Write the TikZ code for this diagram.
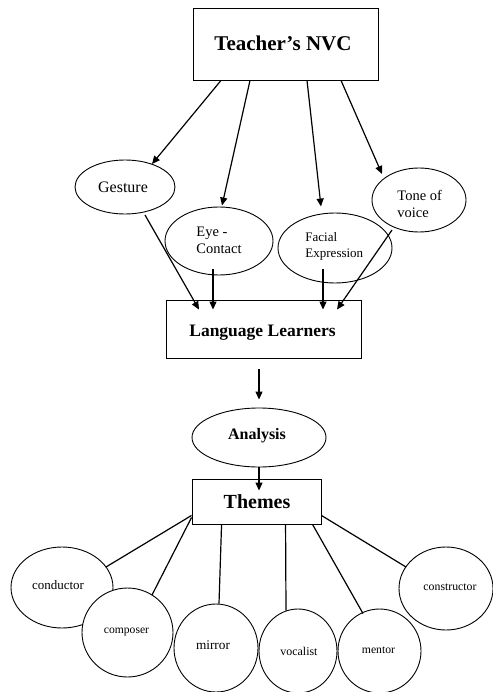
\documentclass[tikz,border=0pt]{standalone}
\usepackage{fontspec}
\setmainfont{Liberation Serif}
\usetikzlibrary{shapes.geometric,arrows.meta,calc}
\begin{document}
\begin{tikzpicture}[x=1pt,y=-1pt,
  line width=0.9pt,
  box/.style={draw, rectangle, inner sep=0pt, line width=0.9pt},
  oval/.style={draw, ellipse, inner sep=0pt, line width=0.9pt},
  wfill/.style={fill=white},
  lbl/.style={inner sep=0pt, align=left},
  arr/.style={-{Triangle[length=8pt,width=7pt]}, line width=1.2pt},
  con/.style={line width=1.2pt}]
\useasboundingbox (0,0) rectangle (492,692);

% top box
\node[box, minimum width=185pt, minimum height=72pt] (tn) at (285.5,44) {};
\node[inner sep=0pt, font=\fontsize{21}{24}\selectfont\bfseries] (tnt) at (283,43) {Teacher’s NVC};

% ellipses second row
\node[oval, minimum width=100pt, minimum height=54pt] (ges) at (125,187) {};
\node[lbl, font=\fontsize{16}{19}\selectfont] (gest) at (123,187) {Gesture};
\node[oval, minimum width=108pt, minimum height=68pt] (eye) at (219,241) {};
\node[lbl, anchor=west, font=\fontsize{14.5}{17}\selectfont] (eyet) at (196,240.5) {Eye -\\Contact};
\node[oval, minimum width=114pt, minimum height=70pt] (fac) at (335,248) {};
\node[lbl, anchor=west, font=\fontsize{13}{16}\selectfont] (fact) at (305,246) {Facial\\Expression};
\node[oval, minimum width=94pt, minimum height=64pt] (ton) at (419,200) {};
\node[lbl, anchor=west, font=\fontsize{14.5}{17}\selectfont] (tont) at (397,203.5) {Tone of\\voice};

% language learners
\node[box, minimum width=195pt, minimum height=58pt] (ll) at (263.5,329) {};
\node[inner sep=0pt, font=\fontsize{17.5}{20}\selectfont\bfseries] (llt) at (262.5,333) {Language Learners};

% analysis
\node[oval, minimum width=134pt, minimum height=59pt] (an) at (259,437.5) {};
\node[inner sep=0pt, font=\fontsize{16}{19}\selectfont\bfseries] (ant) at (257,436) {Analysis};

% themes
\node[box, minimum width=129pt, minimum height=45pt] (th) at (256.5,501.5) {};
\node[inner sep=0pt, font=\fontsize{20}{23}\selectfont\bfseries] (tht) at (257,502) {Themes};

% theme circles
\node[oval, minimum width=102pt, minimum height=81pt] (cond) at (62,587.5) {};
\node[lbl, font=\fontsize{13}{16}\selectfont] (condt) at (58,585) {conductor};
\node[oval, wfill, minimum width=91pt, minimum height=89pt] (comp) at (127.5,632.5) {};
\node[lbl, font=\fontsize{11.6}{14}\selectfont] (compt) at (126.5,632) {composer};
\node[oval, minimum width=84pt, minimum height=88pt] (mir) at (216,648) {};
\node[lbl, font=\fontsize{13.3}{16}\selectfont] (mirt) at (213,645) {mirror};
\node[oval, minimum width=78pt, minimum height=84pt] (voc) at (298,651) {};
\node[lbl, font=\fontsize{11.9}{14}\selectfont] (voct) at (299,651) {vocalist};
\node[oval, minimum width=83pt, minimum height=84pt] (men) at (379.5,651) {};
\node[lbl, font=\fontsize{11.7}{14}\selectfont] (ment) at (378.5,650) {mentor};
\node[oval, minimum width=94pt, minimum height=83pt] (cons) at (446,588.5) {};
\node[lbl, font=\fontsize{11.8}{14}\selectfont] (const) at (450,587) {constructor};

% arrows from Teacher's NVC
\draw[arr] ($(tn.south)+(-64.5,0)$) -- ($(ges.center)+(27,-23)$);
\draw[arr] ($(tn.south)+(-35.5,0)$) -- ($(eye.north)+(3,-1)$);
\draw[arr] ($(tn.south)+(21.5,0)$) -- ($(fac.north)+(-14,-6)$);
\draw[arr] ($(tn.south)+(55.5,0)$) -- ($(ton.center)+(-37,-26)$);

% arrows into Language Learners
\draw[arr] ($(ges.center)+(20,28)$) -- ($(ll.north)+(-64.5,10)$);
\draw[arr] ($(eye.center)+(-6,28)$) -- ($(ll.north)+(-50.5,10)$);
\draw[arr] ($(fac.center)+(-12,21)$) -- ($(ll.north)+(59.5,10)$);
\draw[arr] ($(ton.center)+(-27,30)$) -- ($(ll.north)+(73.5,10)$);

% down the middle
\draw[arr] ($(ll.south)+(-4.5,11)$) -- ($(an.north)+(0,-8)$);
\draw[arr] (an.south) -- ($(th.north)+(2.5,12)$);

% themes connectors
\draw[con] ($(th.south west)+(0,-9)$) -- ($(cond.center)+(44,-20.5)$);
\draw[con] ($(th.south west)+(0,-7)$) -- ($(comp.center)+(24.5,-37.5)$);
\draw[con] ($(th.south west)+(30,0)$) -- ($(mir.north)+(3,0)$);
\draw[con] ($(th.south west)+(94,0)$) -- ($(voc.north)+(-12,2)$);
\draw[con] ($(th.south west)+(121,0)$) -- ($(men.center)+(-16.5,-37.5)$);
\draw[con] ($(th.south east)+(0,-9)$) -- ($(cons.center)+(-40,-21.5)$);
\end{tikzpicture}
\end{document}
